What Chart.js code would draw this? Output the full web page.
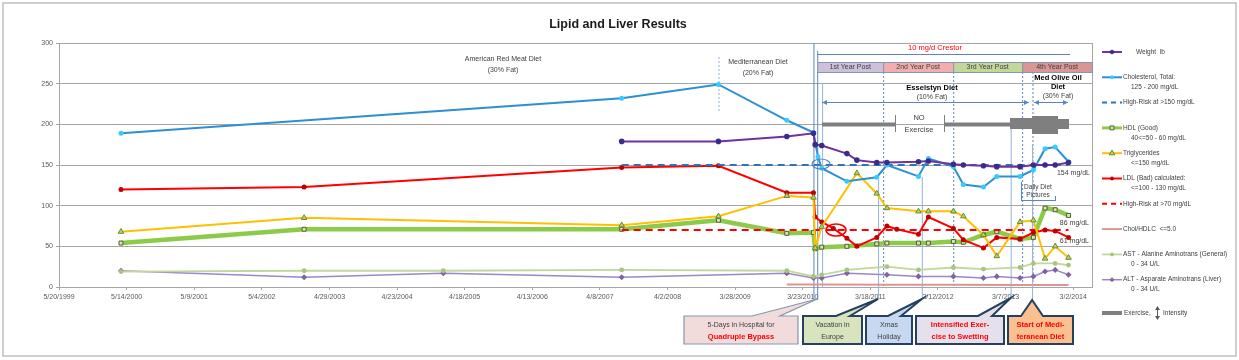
<!DOCTYPE html>
<html>
<head>
<meta charset="utf-8">
<script src="https://cdn.jsdelivr.net/npm/chart.js@4.4.0/dist/chart.umd.min.js"></script>
<style>
  html, body { margin: 0; padding: 0; background: #fff; }
</style>
</head>
<body>
<canvas id="chart" width="1239" height="360"></canvas>
<script>
// axis dates (Excel style, 360 day steps)
const xTickLabels = ['5/20/1999','5/14/2000','5/9/2001','5/4/2002','4/29/2003','4/23/2004','4/18/2005',
  '4/13/2006','4/8/2007','4/2/2008','3/28/2009','3/23/2010','3/18/2011','3/12/2012','3/7/2013','3/2/2014'];
const xEnd = '6/10/2014';

const weightDates = ['8/2/2007','12/29/2008','12/28/2009','5/19/2010','5/28/2010','7/2/2010','11/13/2010','1/5/2011',
  '4/21/2011','6/14/2011','11/29/2011','1/21/2012','6/2/2012','7/25/2012','11/9/2012','1/19/2013','5/23/2013',
  '8/2/2013','10/3/2013','11/26/2013','2/5/2014'];
const weightValues = [179,179,185,189,175,174,164,156,153,153,154,155,151,150,149,148,148,150,150,150,153];

const cholDates = ['4/14/2000','8/2/2007','12/29/2008','12/28/2009','5/19/2010','6/12/2010','7/2/2010','11/13/2010',
  '4/21/2011','6/14/2011','11/29/2011','1/21/2012','6/2/2012','7/25/2012','11/9/2012','1/19/2013','5/23/2013',
  '8/2/2013','10/3/2013','11/26/2013','2/5/2014'];
const cholValues = [189,232,249,205,190,160,146,130,135,150,136,158,148,126,123,136,136,144,170,172,154];

const cholRiskDates = ['8/2/2007','2/5/2014'];
const cholRiskValues = [150,150];

const hdlDates = ['4/14/2000','12/15/2002','8/2/2007','12/29/2008','12/28/2009','5/19/2010','5/28/2010','7/2/2010',
  '11/13/2010','4/21/2011','6/14/2011','11/29/2011','1/21/2012','6/2/2012','7/25/2012','11/9/2012','1/19/2013',
  '5/23/2013','8/2/2013','10/3/2013','11/26/2013','2/5/2014'];
const hdlValues = [54,71,71,82,66,67,47,49,50,53,54,54,54,56,55,64,68,59,61,97,95,88];

const trigDates = ['4/14/2000','12/15/2002','8/2/2007','12/29/2008','12/28/2009','5/19/2010','5/28/2010','7/2/2010',
  '1/5/2011','4/21/2011','6/14/2011','11/29/2011','1/21/2012','6/2/2012','7/25/2012','11/9/2012','1/19/2013',
  '5/23/2013','8/2/2013','10/3/2013','11/26/2013','2/5/2014'];
const trigValues = [68,85,76,87,112,110,48,74,140,115,97,93,93,93,87,64,38,80,82,35,50,36];

const ldlDates = ['4/14/2000','12/15/2002','8/2/2007','12/29/2008','12/28/2009','5/19/2010','5/28/2010','7/2/2010',
  '9/2/2010','11/13/2010','1/5/2011','4/21/2011','6/14/2011','8/6/2011','11/29/2011','1/21/2012','6/2/2012',
  '7/25/2012','11/9/2012','1/19/2013','5/23/2013','8/2/2013','10/3/2013','11/26/2013','2/5/2014'];
const ldlValues = [120,123,147,149,116,116,86,80,72,60,50,61,75,71,65,86,72,58,48,61,59,67,70,69,61];

const ldlRiskDates = ['8/2/2007','2/5/2014'];
const ldlRiskValues = [70,70];

const ratioDates = ['12/28/2009','7/2/2010','6/14/2011','6/2/2012','5/23/2013','2/5/2014'];
const ratioValues = [3.1,3.0,2.8,2.7,2.6,2.5];

const astDates = ['4/14/2000','12/15/2002','12/25/2004','8/2/2007','12/28/2009','5/19/2010','7/2/2010','11/13/2010',
  '6/14/2011','11/29/2011','6/2/2012','11/9/2012','5/23/2013','8/2/2013','11/26/2013','2/5/2014'];
const astValues = [19,20,20,21,20,13,15,21,25,21,24,22,24,29,29,27];

const altDates = ['4/14/2000','12/15/2002','12/25/2004','8/2/2007','12/28/2009','5/19/2010','7/2/2010','11/13/2010',
  '6/14/2011','11/29/2011','6/2/2012','11/9/2012','1/19/2013','5/23/2013','8/2/2013','10/3/2013','11/26/2013','2/5/2014'];
const altValues = [20,12,17,12,17,11,11,17,15,13,13,11,13,11,13,19,21,15];

const legendSub = ['', '125 - 200 mg/dL', '', '40<=50 - 60 mg/dL', '<=150 mg/dL', '<=100 - 130 mg/dL', '', '', '0 - 34 U/L', '0 - 34 U/L'];

const FONT = "'Liberation Sans', Arial, sans-serif";

function parseDay(s) {
  const [m, d, y] = s.split('/').map(Number);
  return Date.UTC(y, m - 1, d) / 864e5;
}
const DAY0 = parseDay(xTickLabels[0]);
const day = s => parseDay(s) - DAY0;
const pts = (dates, vals) => dates.map((d, i) => ({ x: day(d), y: vals[i] }));

function series(label, dates, vals, o) {
  return Object.assign({ label, data: pts(dates, vals), tension: 0, fill: false, pointRadius: 0, pointHoverRadius: 0 }, o);
}

function txt(ctx, s, x, y, size, o = {}) {
  ctx.save();
  ctx.font = (o.bold ? 'bold ' : '') + size + 'px ' + FONT;
  ctx.fillStyle = o.color || '#404040';
  ctx.textAlign = o.align || 'center';
  ctx.textBaseline = 'middle';
  ctx.fillText(s, x, y);
  ctx.restore();
}
function ln(ctx, x1, y1, x2, y2, color, w, dash) {
  ctx.save();
  ctx.strokeStyle = color; ctx.lineWidth = w || 1;
  ctx.setLineDash(dash || []);
  ctx.beginPath(); ctx.moveTo(x1, y1); ctx.lineTo(x2, y2); ctx.stroke();
  ctx.restore();
}
function arrow2(ctx, x1, x2, y, color) {
  ln(ctx, x1, y, x2, y, color, 1);
  ctx.save();
  ctx.fillStyle = color;
  ctx.beginPath(); ctx.moveTo(x1, y); ctx.lineTo(x1 + 5, y - 2.5); ctx.lineTo(x1 + 5, y + 2.5); ctx.fill();
  ctx.beginPath(); ctx.moveTo(x2, y); ctx.lineTo(x2 - 5, y - 2.5); ctx.lineTo(x2 - 5, y + 2.5); ctx.fill();
  ctx.restore();
}
function callout(ctx, box, ptr, fill, stroke, lw, lines) {
  ctx.save();
  ctx.fillStyle = fill; ctx.strokeStyle = stroke; ctx.lineWidth = lw;
  const [x1, y1, x2, y2] = box;
  ctx.beginPath();
  ctx.moveTo(x1, y1);
  ctx.lineTo(ptr[0], y1); ctx.lineTo(ptr[4], ptr[5]); ctx.lineTo(ptr[2], y1);
  ctx.lineTo(x2, y1); ctx.lineTo(x2, y2); ctx.lineTo(x1, y2); ctx.closePath();
  ctx.fill(); ctx.stroke();
  ctx.restore();
  const cx = (x1 + x2) / 2;
  lines.forEach((l, i) => txt(ctx, l.t, cx, y1 + 9 + i * 12, l.bold ? 7.5 : 7, { bold: l.bold, color: l.color }));
}

const BLUE = '#5B86C0';

const decor = {
  id: 'decor',
  beforeDraw(chart) {
    const { ctx } = chart;
    ctx.save(); ctx.fillStyle = '#fff'; ctx.fillRect(0, 0, chart.width, chart.height); ctx.restore();
  },
  beforeDatasetsDraw(chart) {
    const { ctx, chartArea: a, scales: { x } } = chart;
    const X = d => x.getPixelForValue(day(d));
    // plot border right
    ln(ctx, a.right + 0.5, a.top, a.right + 0.5, a.bottom, '#A6A6A6', 1);
    // dotted diet change marker
    ln(ctx, X('12/29/2008') + 0.5, 57, X('12/29/2008') + 0.5, 112, '#8EB4E3', 1, [2, 2]);
    // year boundaries (dotted)
    ['5/25/2011', '6/1/2012', '6/3/2013', '7/28/2013'].forEach(d =>
      ln(ctx, X(d) + 0.5, 72, X(d) + 0.5, a.bottom, BLUE, 1, [2, 2]));
    // bypass lines
    ln(ctx, X('5/19/2010') + 0.5, a.top, X('5/19/2010') + 0.5, 300, BLUE, 1);
    ln(ctx, X('6/8/2010') + 0.5, a.top + 8, X('6/8/2010') + 0.5, 300, BLUE, 1);
    // Esselstyn start
    ln(ctx, X('7/4/2010') + 0.5, 83, X('7/4/2010') + 0.5, a.bottom, '#95B3D7', 1);
    // callout pointer lines
    ln(ctx, X('4/28/2011') + 0.5, 180, X('4/28/2011') + 0.5, 299, '#95B3D7', 1);
    ln(ctx, X('12/17/2011') + 0.5, 177, X('12/17/2011') + 0.5, 299, '#95B3D7', 1);
    ln(ctx, X('4/3/2013') + 0.5, 125, X('4/3/2013') + 0.5, 298, '#95B3D7', 1);
    ln(ctx, X('7/26/2013') + 0.5, 145, X('7/26/2013') + 0.5, 300, '#95B3D7', 1);
  },
  afterDraw(chart) {
    const { ctx, chartArea: a, scales: { x } } = chart;
    const X = d => x.getPixelForValue(day(d));
    // frame + title
    ctx.save(); ctx.strokeStyle = '#BFBFBF'; ctx.lineWidth = 1.5; ctx.strokeRect(3, 3, 1233, 353); ctx.restore();
    txt(ctx, 'Lipid and Liver Results', 618, 25, 12.5, { bold: true, color: '#1a1a1a' });

    txt(ctx, 'American Red Meat Diet', 503, 59, 7);
    txt(ctx, '(30% Fat)', 503, 70, 7);
    txt(ctx, 'Mediterranean Diet', 758, 62, 7);
    txt(ctx, '(20% Fat)', 758, 73, 7);

    // Crestor
    txt(ctx, '10 mg/d Crestor', 935, 48, 7.5, { color: '#FF0000' });
    ln(ctx, 817, 54.5, 1070, 54.5, BLUE, 1);

    // year bands
    const bands = [
      ['1st Year Post', '6/8/2010', '5/25/2011', '#CCC0DA'],
      ['2nd Year Post', '5/25/2011', '6/1/2012', '#F2AEAE'],
      ['3rd Year Post', '6/1/2012', '6/3/2013', '#C4D79B'],
      ['4th Year Post', '6/3/2013', '6/10/2014', '#DA9694']
    ];
    bands.forEach(([t, d1, d2, c]) => {
      const x1 = X(d1), x2 = X(d2);
      ctx.save(); ctx.fillStyle = c; ctx.fillRect(x1, 62, x2 - x1, 10);
      ctx.strokeStyle = '#8497B0'; ctx.lineWidth = 1; ctx.strokeRect(x1 + 0.5, 62.5, x2 - x1, 10); ctx.restore();
      txt(ctx, t, (x1 + x2) / 2, 67.5, 7, { color: '#404040' });
    });

    // diets
    txt(ctx, 'Esselstyn Diet', 932, 88, 7.5, { bold: true, color: '#000' });
    txt(ctx, '(10% Fat)', 932, 97, 7);
    arrow2(ctx, 822, 1029, 102.5, BLUE);
    txt(ctx, 'Med Olive Oil', 1058, 78, 7.5, { bold: true, color: '#000' });
    txt(ctx, 'Diet', 1058, 87, 7.5, { bold: true, color: '#000' });
    txt(ctx, '(30% Fat)', 1058, 96, 7);
    arrow2(ctx, 1034, 1068, 102.5, BLUE);

    // exercise bars
    ctx.save(); ctx.fillStyle = '#7F7F7F';
    ctx.fillRect(822, 122.5, 73, 4);
    ctx.fillRect(944, 122.5, 66, 4);
    ctx.fillRect(1010, 118, 22, 11);
    ctx.fillRect(1032, 116, 26, 18);
    ctx.fillRect(1058, 119, 11, 10);
    ctx.restore();
    ln(ctx, 895.5, 115, 895.5, 132, '#7F7F7F', 1);
    ln(ctx, 944.5, 115, 944.5, 132, '#7F7F7F', 1);
    txt(ctx, 'NO', 919, 118, 7.5);
    txt(ctx, 'Exercise', 919, 130, 7.5);

    // daily diet pictures
    txt(ctx, 'Daily Diet', 1038, 187, 6.5);
    txt(ctx, 'Pictures', 1038, 195, 6.5);
    ln(ctx, 1021, 200.5, 1055, 200.5, BLUE, 1);
    ln(ctx, 1055.5, 196, 1055.5, 201, BLUE, 1);
    ln(ctx, 1021.5, 182, 1021.5, 201, BLUE, 1);

    // value labels
    txt(ctx, '154 mg/dL', 1090, 173, 7, { align: 'right' });
    txt(ctx, '86 mg/dL', 1089, 223, 7, { align: 'right' });
    txt(ctx, '61 mg/dL', 1089, 241, 7, { align: 'right' });

    // circles
    ctx.save();
    ctx.strokeStyle = '#4F81BD'; ctx.lineWidth = 1.2;
    ctx.beginPath(); ctx.ellipse(821, 164, 9, 5, 0, 0, Math.PI * 2); ctx.stroke();
    ctx.strokeStyle = '#FF0000'; ctx.lineWidth = 1.5;
    ctx.beginPath(); ctx.ellipse(836, 230, 10, 6, 0, 0, Math.PI * 2); ctx.stroke();
    ctx.restore();

    // callouts
    const RED = '#FF0000';
    callout(ctx, [684, 316, 798, 344], [752, 0, 780, 0, X('6/8/2010'), 299], '#F2DCDB', '#8497B0', 1.2,
      [{ t: '5-Days in Hospital for' }, { t: 'Quadruple Bypass', bold: true, color: RED }]);
    callout(ctx, [803, 316, 862, 344], [836, 0, 850, 0, X('4/28/2011'), 299], '#D7E4BD', '#254061', 2,
      [{ t: 'Vacation in' }, { t: 'Europe' }]);
    callout(ctx, [866, 316, 912, 344], [888, 0, 901, 0, X('12/17/2011'), 299], '#C6D9F1', '#254061', 2,
      [{ t: 'Xmas' }, { t: 'Holiday' }]);
    callout(ctx, [916, 316, 1004, 344], [978, 0, 992, 0, X('4/3/2013'), 298], '#E6E0EC', '#254061', 2,
      [{ t: 'Intensified Exer-', bold: true, color: RED }, { t: 'cise to Swetting', bold: true, color: RED }]);
    callout(ctx, [1008, 316, 1073, 344], [1021, 0, 1043, 0, X('7/26/2013'), 300], '#FAC090', '#254061', 2,
      [{ t: 'Start of Medi-', bold: true, color: RED }, { t: 'teranean Diet', bold: true, color: RED }]);

    // legend
    const ly0 = 52, lstep = 25.3;
    chart.data.datasets.forEach((ds, i) => {
      const y = ly0 + i * lstep;
      ctx.save();
      ctx.strokeStyle = ds.borderColor; ctx.lineWidth = Math.min(ds.borderWidth, 3);
      ctx.setLineDash(ds.borderDash ? [5, 4] : []);
      ctx.beginPath(); ctx.moveTo(1102, y); ctx.lineTo(1122, y); ctx.stroke();
      ctx.restore();
      if (ds.pointRadius > 0) {
        ctx.save();
        ctx.fillStyle = ds.pointBackgroundColor; ctx.strokeStyle = ds.pointBorderColor;
        Chart.helpers.drawPoint(ctx, { pointStyle: ds.pointStyle, radius: ds.pointRadius, borderWidth: 1, rotation: 0 }, 1112, y);
        ctx.restore();
      }
      txt(ctx, ds.label, i === 0 ? 1136 : 1123, y, 6.5, { align: 'left' });
      if (legendSub[i]) txt(ctx, legendSub[i], 1131, y + 10, 6.5, { align: 'left' });
    });
    const ey = 313;
    ctx.save(); ctx.fillStyle = '#7F7F7F'; ctx.fillRect(1102, ey - 2, 20, 4); ctx.restore();
    txt(ctx, 'Exercise,', 1124, ey, 6.5, { align: 'left' });
    ln(ctx, 1157.5, ey - 6, 1157.5, ey + 6, '#595959', 1);
    ctx.save(); ctx.fillStyle = '#595959';
    ctx.beginPath(); ctx.moveTo(1157.5, ey - 7); ctx.lineTo(1155, ey - 3); ctx.lineTo(1160, ey - 3); ctx.fill();
    ctx.beginPath(); ctx.moveTo(1157.5, ey + 7); ctx.lineTo(1155, ey + 3); ctx.lineTo(1160, ey + 3); ctx.fill();
    ctx.restore();
    txt(ctx, 'Intensity', 1163, ey, 6.5, { align: 'left' });
  }
};

new Chart(document.getElementById('chart'), {
  type: 'line',
  data: {
    datasets: [
      series('Weight  lb', weightDates, weightValues, { borderColor: '#7030A0', borderWidth: 2, pointStyle: 'circle', pointRadius: 1.8, pointBackgroundColor: '#3B2C8C', pointBorderColor: '#3B2C8C' }),
      series('Cholesterol, Total:', cholDates, cholValues, { borderColor: '#2E8FD3', borderWidth: 2, pointStyle: 'circle', pointRadius: 1.5, pointBackgroundColor: '#33CCFF', pointBorderColor: '#33CCFF' }),
      series('High-Risk at >150 mg/dL', cholRiskDates, cholRiskValues, { borderColor: '#2E75B6', borderWidth: 2, borderDash: [7, 5] }),
      series('HDL (Good)', hdlDates, hdlValues, { borderColor: '#8CCB4A', borderWidth: 4.5, pointStyle: 'rect', pointRadius: 2.8, pointBackgroundColor: '#D7E4BD', pointBorderColor: '#4F6228', pointBorderWidth: 1, order: 2 }),
      series('Triglycerides', trigDates, trigValues, { borderColor: '#FFC000', borderWidth: 2, pointStyle: 'triangle', pointRadius: 3.2, pointBackgroundColor: '#B5CF7E', pointBorderColor: '#6B8E23', pointBorderWidth: 1 }),
      series('LDL (Bad) calculated:', ldlDates, ldlValues, { borderColor: '#FF0000', borderWidth: 2, pointStyle: 'circle', pointRadius: 1.5, pointBackgroundColor: '#C00000', pointBorderColor: '#C00000' }),
      series('High-Risk at >70 mg/dL', ldlRiskDates, ldlRiskValues, { borderColor: '#FF0000', borderWidth: 2, borderDash: [7, 5] }),
      series('Chol/HDLC  <=5.0', ratioDates, ratioValues, { borderColor: '#D99694', borderWidth: 2, order: 3 }),
      series('AST - Alanine Aminotrans (General)', astDates, astValues, { borderColor: '#C3D69B', borderWidth: 1.8, pointStyle: 'circle', pointRadius: 1.5, pointBackgroundColor: '#A9C47F', pointBorderColor: '#A9C47F', order: 1 }),
      series('ALT - Asparate Aminotrans (Liver)', altDates, altValues, { borderColor: '#9988CC', borderWidth: 1.5, pointStyle: 'rectRot', pointRadius: 2, pointBackgroundColor: '#8064A2', pointBorderColor: '#8064A2', order: 1 })
    ]
  },
  options: {
    responsive: false,
    animation: false,
    devicePixelRatio: 1,
    layout: { padding: { left: 0, right: 1239 - 1092, top: 43, bottom: 53 } },
    plugins: { legend: { display: false }, tooltip: { enabled: false }, title: { display: false } },
    scales: {
      x: {
        type: 'linear',
        min: 0,
        max: day(xEnd),
        afterBuildTicks: s => { s.ticks = xTickLabels.map(l => ({ value: day(l) })); },
        afterFit: s => { s.height = 20; },
        grid: { drawOnChartArea: false, drawTicks: true, tickLength: 3, color: '#A6A6A6' },
        border: { color: '#A6A6A6' },
        ticks: { autoSkip: false, maxRotation: 0, padding: 3, color: '#595959', font: { family: FONT, size: 7 },
          callback: (v, i) => xTickLabels[i] }
      },
      y: {
        min: 0, max: 300,
        afterFit: s => { s.width = 59; },
        grid: { color: '#A6A6A6', tickLength: 3 },
        border: { color: '#A6A6A6' },
        ticks: { stepSize: 50, padding: 3, color: '#595959', font: { family: FONT, size: 7 } }
      }
    }
  },
  plugins: [decor]
});
</script>
</body>
</html>
